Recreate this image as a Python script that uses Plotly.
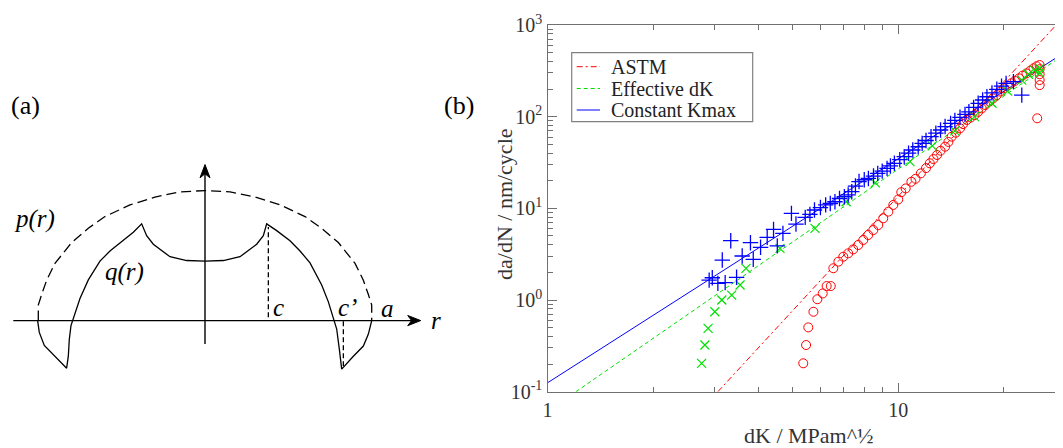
import plotly.graph_objects as go

# ---------------- Panel (a): schematic pressure profiles ----------------
# p(r): outer (Hertz-like) pressure, dashed; normalised r (a = 1)
p_r = [-1.0, -1.0, -0.98, -0.95, -0.9, -0.8, -0.7, -0.6, -0.45, -0.3, -0.15, 0.0,
       0.15, 0.3, 0.45, 0.6, 0.7, 0.8, 0.9, 0.95, 0.98, 1.0, 1.0]
p_val = [0.0, 0.12, 0.2, 0.31, 0.44, 0.6, 0.71, 0.8, 0.89, 0.95, 0.99, 1.0,
         0.99, 0.95, 0.89, 0.8, 0.71, 0.6, 0.44, 0.31, 0.2, 0.12, 0.0]

# q(r): actual pressure distribution, solid
q_r = [-1.004, -0.994, -0.964, -0.90, -0.83, -0.82, -0.814, -0.804, -0.79, -0.75,
       -0.70, -0.63, -0.57, -0.49, -0.43, -0.38, -0.35, -0.31, -0.21, -0.11, 0.0,
       0.11, 0.21, 0.31, 0.35, 0.37, 0.43, 0.51, 0.57, 0.63, 0.70, 0.74, 0.77,
       0.79, 0.806, 0.82, 0.89, 0.95, 0.98, 0.994, 1.0]
q_val = [0.0, -0.091, -0.191, -0.274, -0.366, -0.274, -0.144, -0.039, 0.013, 0.17,
         0.313, 0.457, 0.535, 0.614, 0.679, 0.744, 0.653, 0.587, 0.491, 0.462, 0.457,
         0.462, 0.491, 0.587, 0.653, 0.744, 0.692, 0.614, 0.535, 0.444, 0.274, 0.144,
         0.013, -0.065, -0.222, -0.373, -0.274, -0.196, -0.104, -0.039, 0.0]

c_r = [0.38, 0.38]
c_val = [0.026, 0.72]
cp_r = [0.83, 0.83]
cp_val = [-0.005, -0.35]

axis_h = [-1.15, 1.294]   # horizontal axis extent (r)
axis_v = [-0.18, 1.20]    # vertical axis extent

# ---------------- Panel (b): crack growth data ----------------
kmax_dk = [2.89, 2.95, 3.06, 3.21, 3.46, 3.15, 3.33, 3.59, 3.79, 3.86, 4.05, 4.23, 4.41,
           4.52, 4.69, 4.96, 5.11, 5.43, 5.6, 5.77, 6.0, 6.21, 6.4, 6.6, 6.8, 7.02, 7.2,
           7.37, 7.55, 7.73, 8.0, 8.22, 8.5, 8.74, 9.0, 9.29, 9.5, 9.75, 10.1, 10.4,
           10.7, 11.0, 11.4, 11.7, 12.0, 12.4, 12.8, 13.2, 13.6, 14.1, 14.5, 15.0,
           15.5, 15.9, 16.4, 16.9, 17.4, 17.9, 18.5, 19.1, 19.7, 20.3, 21.3, 22.5]
kmax_dadn = [1.65, 1.75, 1.52, 1.55, 1.77, 2.73, 4.44, 3.02, 4.22, 2.78, 3.76, 4.83, 5.9,
             3.9, 5.34, 8.81, 6.74, 7.98, 8.6, 9.59, 10.2, 10.9, 11.3, 11.8, 12.8, 13.4,
             14.0, 15.2, 17.5, 19.6, 20.5, 21.2, 22.5, 24.1, 25.5, 27.3, 29.0, 31.0,
             34.0, 36.6, 40.0, 43.3, 47.0, 51.2, 55.0, 60.5, 66.0, 71.6, 78.0, 84.6,
             91.0, 98.4, 106, 113, 126, 140, 152, 165, 182, 199, 215, 231, 241, 172]

eff_dk = [2.75, 2.81, 2.87, 3.0, 3.14, 3.35, 3.54, 3.68, 4.6, 5.79, 7.1, 8.6, 10.8,
          12.5, 14.5, 16.5, 18.5, 20.5, 22.5, 23.5, 24.5, 25.3, 25.3]
eff_dadn = [0.204, 0.323, 0.49, 0.745, 1.0, 1.13, 1.46, 2.21, 3.66, 6.05, 11.8, 19,
            32.3, 48, 70, 100, 140, 190, 250, 290, 320, 336, 300]

astm_dk = [5.36, 5.46, 5.54, 5.73, 5.88, 6.09, 6.25, 6.42, 6.53, 6.75, 6.97, 7.2, 7.44,
           7.69, 7.95, 8.21, 8.49, 8.77, 9.06, 9.37, 9.68, 10.0, 10.2, 10.5, 10.9, 11.2,
           11.6, 12.0, 12.3, 12.6, 12.9, 13.2, 13.6, 13.9, 14.2, 14.6, 15.0, 15.3,
           15.7, 16.1, 16.5, 16.9, 17.3, 17.7, 18.2, 18.6, 19.1, 19.5, 20.0, 20.5,
           21.0, 21.5, 22.1, 22.6, 23.2, 23.8, 24.3, 24.8, 25.3, 25.3, 25.3, 25.3,
           25.3, 24.9]
astm_dadn = [0.204, 0.323, 0.503, 0.745, 1.02, 1.18, 1.42, 1.42, 2.22, 2.62, 2.97, 3.23,
             3.57, 3.98, 4.52, 5.12, 5.8, 6.58, 7.78, 9.2, 10.9, 12.5, 15.0, 16.5, 19.5,
             21, 24.1, 27.5, 31, 34.5, 38.2, 42.5, 47.1, 53, 60.5, 67, 74.6, 83, 92, 98,
             104, 113, 123, 134, 146, 158, 172, 188, 204, 218, 231, 246, 262, 280, 297,
             318, 337, 355, 366, 330, 290, 251, 221, 96]

# fitted power-law lines (end points)
astm_fit_dk = [3.06, 28.2]
astm_fit_dadn = [0.1, 1000]
eff_fit_dk = [1.205, 30]
eff_fit_dadn = [0.1, 490]
kmax_fit_dk = [1.0, 30]
kmax_fit_dadn = [0.125, 510]

legend_names = ["ASTM", "Effective dK", "Constant Kmax"]

y_tickvals = [0.1, 1, 10, 100, 1000]
y_ticktext = ["10<sup>-1</sup>", "10<sup>0</sup>", "10<sup>1</sup>", "10<sup>2</sup>", "10<sup>3</sup>"]
x_tickvals = [1, 10]
x_ticktext = ["1", "10"]
x_minor = [2, 3, 4, 5, 6, 7, 8, 9, 20]
y_minor = [m * d for d in [0.1, 1, 10, 100] for m in range(2, 10)]

RED = "rgb(255,0,0)"
GREEN = "rgb(0,225,0)"
BLUE = "rgb(0,0,255)"
SERIF = "Liberation Serif, Times New Roman, Times, serif"

W, H = 1063, 448
OFF = 8  # page body margin shifts the figure by 8 px; compensate


def px(x):
    """reference pixel x -> paper fraction"""
    return (x - OFF) / W


def py(y):
    """reference pixel y (from top) -> paper fraction"""
    return 1 - (y - OFF) / H


fig = go.Figure()

# ---- panel (a) traces ----
fig.add_trace(go.Scatter(x=p_r, y=p_val, mode="lines", xaxis="x2", yaxis="y2",
                         line=dict(color="black", width=1.3, dash="10px,5px"),
                         showlegend=False, hoverinfo="skip"))
fig.add_trace(go.Scatter(x=q_r, y=q_val, mode="lines", xaxis="x2", yaxis="y2",
                         line=dict(color="black", width=1.3),
                         showlegend=False, hoverinfo="skip"))
fig.add_trace(go.Scatter(x=c_r, y=c_val, mode="lines", xaxis="x2", yaxis="y2",
                         line=dict(color="black", width=1.3, dash="5px,3px"),
                         showlegend=False, hoverinfo="skip"))
fig.add_trace(go.Scatter(x=cp_r, y=cp_val, mode="lines", xaxis="x2", yaxis="y2",
                         line=dict(color="black", width=1.3, dash="5px,3px"),
                         showlegend=False, hoverinfo="skip"))

# ---- panel (b) traces ----
ASTM_DASH = "6px,3px,2px,3px"
EFF_DASH = "4px,3px"
fig.add_trace(go.Scatter(x=astm_fit_dk, y=astm_fit_dadn, mode="lines", name=legend_names[0],
                         showlegend=False,
                         line=dict(color=RED, width=1, dash=ASTM_DASH)))
fig.add_trace(go.Scatter(x=eff_fit_dk, y=eff_fit_dadn, mode="lines", name=legend_names[1],
                         showlegend=False,
                         line=dict(color=GREEN, width=1, dash=EFF_DASH)))
fig.add_trace(go.Scatter(x=kmax_fit_dk, y=kmax_fit_dadn, mode="lines", name=legend_names[2],
                         showlegend=False,
                         line=dict(color=BLUE, width=1)))
fig.add_trace(go.Scatter(x=astm_dk, y=astm_dadn, mode="markers", showlegend=False,
                         marker=dict(symbol="circle-open", size=9, color=RED,
                                     line=dict(width=1))))
fig.add_trace(go.Scatter(x=eff_dk, y=eff_dadn, mode="markers", showlegend=False,
                         marker=dict(symbol="x-thin-open", size=9, color=GREEN,
                                     line=dict(width=1.2, color=GREEN))))
fig.add_trace(go.Scatter(x=kmax_dk, y=kmax_dadn, mode="markers", showlegend=False,
                         marker=dict(symbol="cross-thin-open", size=11, color=BLUE,
                                     line=dict(width=1.3, color=BLUE))))

# pixel-based domains (reference pixels converted to paper fractions)
x1_dom = [px(547.5), px(1065.6)]          # x = 1 ... 30
y1_dom = [py(391.7), py(25)]              # y = 0.1 ... 1000

# panel (a): r = 0 at ref x 205, 1 unit = 166.7 px ; y = 0 at ref y 315, 1 unit = 127.7 px
ra0, ra1 = (OFF - 205) / 166.7, (440 - 205) / 166.7
ya_top, ya_bot = (315 - OFF) / 127.7, (315 - 448) / 127.7

AX = "#707070"
fig.update_layout(
    template="none",
    width=W, height=H, autosize=False,
    margin=dict(l=0, r=0, t=0, b=0, pad=0),
    paper_bgcolor="white", plot_bgcolor="white",
    font=dict(family=SERIF, color="#222222"),
    showlegend=False,
    xaxis=dict(type="log", domain=x1_dom, range=[0, 1.4771], anchor="y",
               automargin=False,
               tickmode="array", tickvals=x_tickvals, ticktext=x_ticktext,
               ticks="inside", ticklen=9, tickwidth=1, tickcolor=AX,
               minor=dict(tickmode="array", tickvals=x_minor, ticks="inside",
                          ticklen=5, tickcolor=AX, tickwidth=1),
               showline=True, linecolor=AX, linewidth=1.3, mirror="allticks",
               showgrid=False, zeroline=False,
               tickfont=dict(family=SERIF, size=20, color="#333333")),
    yaxis=dict(type="log", domain=y1_dom, range=[-1, 3], anchor="x",
               automargin=False,
               tickmode="array", tickvals=y_tickvals, ticktext=y_ticktext,
               ticks="inside", ticklen=9, tickwidth=1, tickcolor=AX,
               minor=dict(tickmode="array", tickvals=y_minor, ticks="inside",
                          ticklen=5, tickcolor=AX, tickwidth=1),
               showline=True, linecolor=AX, linewidth=1.3, mirror="allticks",
               showgrid=False, zeroline=False,
               tickfont=dict(family=SERIF, size=20, color="#333333")),
    xaxis2=dict(domain=[0, px(440)], range=[ra0, ra1], anchor="y2",
                visible=False, automargin=False),
    yaxis2=dict(domain=[0, 1], range=[ya_bot, ya_top], anchor="x2",
                visible=False, automargin=False),
)

# ---- manual legend box ----
shapes = [dict(type="rect", xref="paper", yref="paper",
               x0=px(571.7), x1=px(752.7), y0=py(52.7), y1=py(121.7),
               line=dict(color="#808080", width=1.2), fillcolor="white", layer="above")]
leg_rows = [66.7, 88.5, 110.0]
leg_styles = [(RED, ASTM_DASH), (GREEN, EFF_DASH), (BLUE, "solid")]
for yy, (col, dsh) in zip(leg_rows, leg_styles):
    shapes.append(dict(type="line", xref="paper", yref="paper",
                       x0=px(576.7), x1=px(600), y0=py(yy), y1=py(yy),
                       line=dict(color=col, width=1, dash=dsh), layer="above"))

# ---- axis arrows of panel (a) as shapes (line + filled head) ----
hx = 13 / 166.7   # head length along r
hw = 5 / 127.7    # head half-width in y units
shapes.append(dict(type="line", xref="x2", yref="y2", x0=axis_h[0], x1=axis_h[1] - hx * 0.6,
                   y0=0, y1=0, line=dict(color="black", width=1.4)))
shapes.append(dict(type="path", xref="x2", yref="y2",
                   path=(f"M {axis_h[1]},0 L {axis_h[1] - hx},{hw} "
                         f"L {axis_h[1] - hx * 0.7},0 L {axis_h[1] - hx},{-hw} Z"),
                   fillcolor="black", line=dict(color="black", width=1)))
vx = 5 / 166.7
vy = 13 / 127.7
shapes.append(dict(type="line", xref="x2", yref="y2", x0=0, x1=0,
                   y0=axis_v[0], y1=axis_v[1] - vy * 0.6,
                   line=dict(color="black", width=1.4)))
shapes.append(dict(type="path", xref="x2", yref="y2",
                   path=(f"M 0,{axis_v[1]} L {vx},{axis_v[1] - vy} "
                         f"L 0,{axis_v[1] - vy * 0.7} L {-vx},{axis_v[1] - vy} Z"),
                   fillcolor="black", line=dict(color="black", width=1)))
fig.update_layout(shapes=shapes)

ann = []
for yy, name in zip(leg_rows, legend_names):
    ann.append(dict(x=px(610), y=py(yy), xref="paper", yref="paper", text=name,
                    xanchor="left", yanchor="middle", showarrow=False, borderpad=0,
                    font=dict(family=SERIF, size=20, color="#222222")))

labels_a = [("<i>p(r)</i>", -1.023, 0.783), ("<i>q(r)</i>", -0.48, 0.376),
            ("<i>c</i>", 0.438, 0.10), ("<i>c’</i>", 0.855, 0.10),
            ("<i>a</i>", 1.092, 0.094), ("<i>r</i>", 1.385, 0.0)]
for t, xx, yy in labels_a:
    ann.append(dict(x=xx, y=yy, xref="x2", yref="y2", text=t, showarrow=False,
                    xanchor="center", yanchor="middle",
                    font=dict(family=SERIF, size=25, color="black")))

ann.append(dict(x=px(25.8), y=py(105), xref="paper", yref="paper", text="(a)",
                xanchor="center", yanchor="middle",
                showarrow=False, font=dict(family=SERIF, size=26, color="black")))
ann.append(dict(x=px(458.5), y=py(105), xref="paper", yref="paper", text="(b)",
                xanchor="center", yanchor="middle",
                showarrow=False, font=dict(family=SERIF, size=26, color="black")))
# axis titles of panel (b)
ann.append(dict(x=px(809), y=py(435), xref="paper", yref="paper",
                text="dK / MPam^½", showarrow=False, xanchor="center", yanchor="middle",
                font=dict(family=SERIF, size=22, color="#333333")))
ann.append(dict(x=px(504), y=py(204), xref="paper", yref="paper",
                text="da/dN / nm/cycle", showarrow=False, textangle=-90,
                xanchor="center", yanchor="middle",
                font=dict(family=SERIF, size=22, color="#333333")))
fig.update_layout(annotations=ann)

fig.write_html("out.html", config={"responsive": False})
